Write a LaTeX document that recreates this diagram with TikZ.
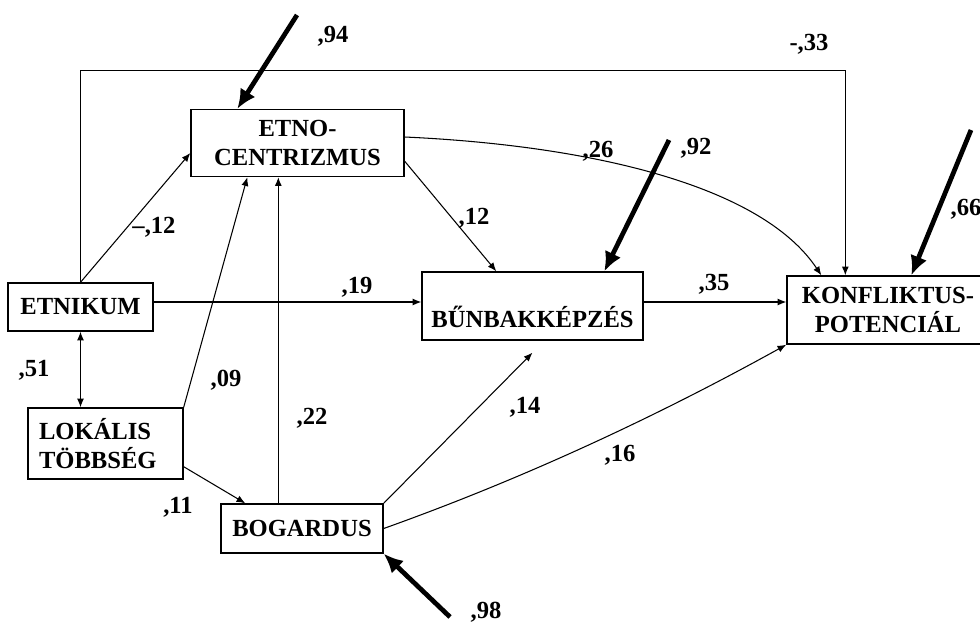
\documentclass[tikz,border=0pt]{standalone}
\usepackage{fontspec}
\setmainfont{Liberation Serif}
\usetikzlibrary{arrows.meta,calc}
\begin{document}
\begin{tikzpicture}[x=0.02cm, y=-0.02cm, >={Latex[length=5pt,width=4pt]},
    font=\fontsize{14}{16.4}\selectfont\bfseries,
    box/.style={draw, line width=0.8pt, inner sep=0pt, align=center},
    path/.style={line width=0.6pt, ->},
    err/.style={line width=2.7pt, -{Latex[length=11pt,width=10pt]}},
    lbl/.style={inner sep=0pt}]
  \useasboundingbox (0,0) rectangle (980,622);
  % boxes
  \node[box, minimum width=2.9cm, minimum height=0.96cm] (etnikum) at (80.5,307) {ETNIKUM};
  \node[box, minimum width=4.26cm, minimum height=1.34cm] (etno) at (297.5,143) {ETNO-\\CENTRIZMUS};
  \node[box, minimum width=3.1cm, minimum height=1.42cm, text width=2.66cm, align=left] (lokalis) at (105.5,443.5) {LOKÁLIS\\TÖBBSÉG};
  \node[box, minimum width=3.24cm, minimum height=0.98cm] (bogardus) at (302,528.5) {BOGARDUS};
  \node[box, minimum width=4.42cm, minimum height=1.36cm, text height=0.84cm, text depth=0pt] (bunbak) at (532.5,306) {BŰNBAKKÉPZÉS};
  \node[box, minimum width=4.04cm, minimum height=1.36cm] (konf) at (888,310) {KONFLIKTUS-\\POTENCIÁL};
  % paths
  \draw[path] (etnikum.north) -- ++(0,-212) -| ($(konf.north west)+(59,0)$);
  \draw[path] (etnikum.north) -- ($(etno.west)+(0,10)$);
  \draw[path,<->] (etnikum.south) -- (etnikum.south |- lokalis.north);
  \draw[path] (lokalis.north east) -- ($(etno.south west)+(57,0)$);
  \draw[path] ($(bogardus.north west)+(58,0)$) coordinate (b22) -- (b22 |- etno.south);
  \draw[path] ($(lokalis.south east)+(0,-13)$) -- ($(bogardus.north west)+(25,0)$);
  \draw[path] (bogardus.north east) -- ($(bunbak.south)+(0,12)$);
  \draw[path] (bogardus.east) .. controls +(140,-50) and +(-130,72) .. (konf.south west);
  \draw[path] ($(etnikum.east)+(0,-5)$) coordinate (e19) -- (e19 -| bunbak.west);
  \draw[path] ($(bunbak.east)+(0,-4)$) coordinate (b35) -- (b35 -| konf.west);
  \draw[path] ($(etno.south east)+(0,-16)$) -- ($(bunbak.north west)+(75,0)$);
  \draw[path] ($(etno.east)+(0,-6)$) .. controls +(176,8) and +(-62,-93) .. ($(konf.north west)+(35,0)$);
  % residuals
  \coordinate (r94) at (297,15);
  \coordinate (r92) at (669,140);
  \coordinate (r66) at (971,130);
  \coordinate (r98) at (450,617);
  \draw[err] (r94) -- ($(etno.north west)+(47,0)$);
  \draw[err] (r92) -- ($(bunbak.north west)+(183,0)$);
  \draw[err] (r66) -- ($(konf.north west)+(125,0)$);
  \draw[err] (r98) -- (bogardus.south east);
  % coefficients
  \node[lbl] (l94) at (333,36) {,94};
  \node[lbl] (l33) at (809,44) {-,33};
  \node[lbl] (l26) at (598,151) {,26};
  \node[lbl] (l92) at (696,148) {,92};
  \node[lbl] (l12b) at (474,218) {,12};
  \node[lbl] (l12a) at (154,227) {--,12};
  \node[lbl] (l66) at (966,209) {,66};
  \node[lbl] (l19) at (357,287) {,19};
  \node[lbl] (l35) at (714,284) {,35};
  \node[lbl] (l51) at (34,370) {,51};
  \node[lbl] (l09) at (226,380) {,09};
  \node[lbl] (l22) at (312,418) {,22};
  \node[lbl] (l11) at (178,507) {,11};
  \node[lbl] (l14) at (525,407) {,14};
  \node[lbl] (l16) at (620,455) {,16};
  \node[lbl] (l98) at (486,612) {,98};
\end{tikzpicture}
\end{document}
